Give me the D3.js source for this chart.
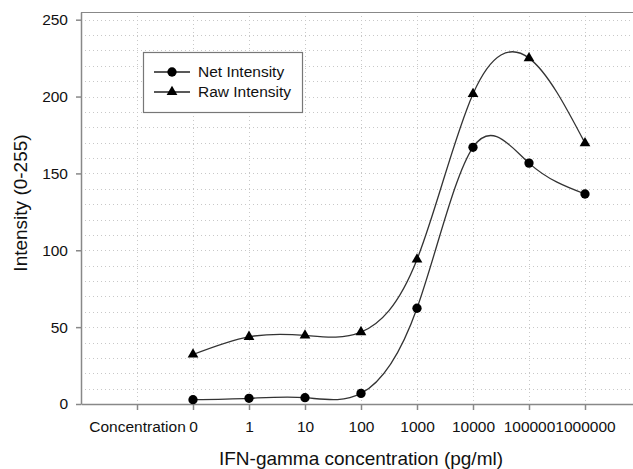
<!DOCTYPE html>
<html>
<head>
<meta charset="utf-8">
<script src="https://cdn.jsdelivr.net/npm/d3@7"></script>
<style>
  body { margin: 0; background: #fff; }
  svg { font-family: 'Liberation Sans', Arial, sans-serif; }
</style>
</head>
<body>
<div class="chart-container"></div>
<script>
// data
const categories = ['Concentration', '0', '1', '10', '100', '1000', '10000', '100000', '1000000'];
const netIntensity = [null, 2.8, 3.7, 4.1, 6.9, 62.3, 167, 156.7, 136.6];
const rawIntensity = [null, 32.2, 43.7, 44.6, 46.8, 94, 201.7, 225, 169.7];
const yTicks = [0, 50, 100, 150, 200, 250];

const width = 633;
const height = 469;
const plot = { left: 81, right: 641, top: 12, bottom: 404 };

const svg = d3.select('.chart-container')
    .append('svg')
    .attr('width', width)
    .attr('height', height);

// scales
const xScale = d3.scalePoint()
    .domain(categories)
    .range([plot.left, plot.right])
    .padding(1);

const yScale = d3.scaleLinear()
    .domain([0, 255])
    .range([plot.bottom, plot.top]);

// grid
const grid = svg.append('g').attr('class', 'grid');

grid.selectAll('.hgrid')
    .data(d3.range(10, 260, 10))
    .enter()
    .append('line')
        .attr('x1', plot.left)
        .attr('x2', plot.right)
        .attr('y1', d => Math.round(yScale(d)) + 0.5)
        .attr('y2', d => Math.round(yScale(d)) + 0.5)
        .attr('stroke', '#c8c8c8')
        .attr('stroke-dasharray', '1,3');

grid.selectAll('.vgrid')
    .data(categories)
    .enter()
    .append('line')
        .attr('x1', d => Math.round(xScale(d)) + 0.5)
        .attr('x2', d => Math.round(xScale(d)) + 0.5)
        .attr('y1', plot.top)
        .attr('y2', plot.bottom)
        .attr('stroke', '#c8c8c8')
        .attr('stroke-dasharray', '1,3');

// frame top
svg.append('line')
    .attr('x1', plot.left).attr('x2', plot.right)
    .attr('y1', plot.top + 0.5).attr('y2', plot.top + 0.5)
    .attr('stroke', '#888')
    .attr('stroke-width', 1.2);

// axes
const xAxis = d3.axisBottom(xScale)
    .tickSizeInner(6)
    .tickSizeOuter(0)
    .tickPadding(11);

const xAxisDraw = svg.append('g')
    .attr('class', 'x axis')
    .attr('transform', `translate(0, ${plot.bottom})`)
    .call(xAxis);

const yAxis = d3.axisLeft(yScale)
    .tickValues(yTicks)
    .tickSizeInner(5)
    .tickSizeOuter(0)
    .tickPadding(8);

const yAxisDraw = svg.append('g')
    .attr('class', 'y axis')
    .attr('transform', `translate(${plot.left}, 0)`)
    .call(yAxis);

[xAxisDraw, yAxisDraw].forEach(a => {
    a.selectAll('path, line').attr('stroke', '#888').attr('stroke-width', 1.5);
    a.selectAll('text').attr('fill', '#111').style('font-size', '15.5px').style('font-family', "'Liberation Sans', Arial, sans-serif");
});

// axis titles
svg.append('text')
    .attr('x', (plot.left + plot.right) / 2)
    .attr('y', 465)
    .attr('text-anchor', 'middle')
    .style('font-size', '19px')
    .attr('fill', '#111')
    .text('IFN-gamma concentration (pg/ml)');

svg.append('text')
    .attr('transform', `translate(27, 203) rotate(-90)`)
    .attr('text-anchor', 'middle')
    .style('font-size', '19px')
    .attr('fill', '#111')
    .text('Intensity (0-255)');

// lines
const toPoints = values => values
    .map((v, i) => ({ c: categories[i], v }))
    .filter(d => d.v !== null);

const line = d3.line()
    .x(d => xScale(d.c))
    .y(d => yScale(d.v))
    .curve(d3.curveNatural);

const series = [
    { name: 'Net Intensity', values: toPoints(netIntensity), symbol: d3.symbolCircle },
    { name: 'Raw Intensity', values: toPoints(rawIntensity), symbol: d3.symbolTriangle }
];

series.forEach(s => {
    svg.append('path')
        .datum(s.values)
        .attr('d', line)
        .attr('fill', 'none')
        .attr('stroke', '#333')
        .attr('stroke-width', 1.3);

    svg.append('g')
        .selectAll('path')
        .data(s.values)
        .enter()
        .append('path')
            .attr('transform', d => `translate(${xScale(d.c)}, ${yScale(d.v)})`)
            .attr('d', d3.symbol().type(s.symbol).size(s.symbol === d3.symbolCircle ? 68 : 50))
            .attr('fill', '#000');
});

// legend
const legend = svg.append('g').attr('class', 'legend');

legend.append('rect')
    .attr('x', 143.5)
    .attr('y', 52.5)
    .attr('width', 159)
    .attr('height', 60)
    .attr('fill', '#fff')
    .attr('stroke', '#777')
    .attr('stroke-width', 1.2);

series.forEach((s, i) => {
    const y = 72 + i * 20;
    legend.append('line')
        .attr('x1', 154).attr('x2', 190)
        .attr('y1', y).attr('y2', y)
        .attr('stroke', '#222')
        .attr('stroke-width', 1.3);
    legend.append('path')
        .attr('transform', `translate(172, ${y})`)
        .attr('d', d3.symbol().type(s.symbol).size(s.symbol === d3.symbolCircle ? 68 : 50))
        .attr('fill', '#000');
    legend.append('text')
        .attr('x', 198)
        .attr('y', y)
        .attr('dy', '0.35em')
        .style('font-size', '15.5px')
        .attr('fill', '#111')
        .text(s.name);
});
</script>
</body>
</html>
